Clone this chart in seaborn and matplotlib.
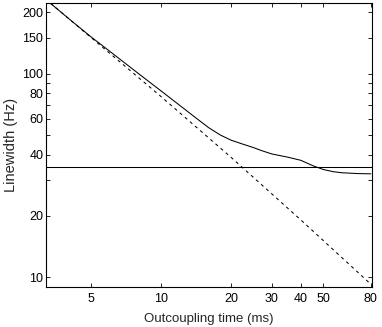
import numpy as np
import pandas as pd
import seaborn as sns
import matplotlib
matplotlib.use("Agg")
from matplotlib import pyplot as plt
from matplotlib.ticker import FixedLocator, NullFormatter, FixedFormatter

# values (log-log)
solid_t = [3.2, 4, 5, 6, 7, 8, 10, 12, 14, 16, 18, 20, 22, 25, 27, 30, 35, 40, 45, 50, 55, 60, 70, 80]
solid_hz = [230, 186, 151, 128.7, 112.3, 99.8, 82.1, 69.9, 61.0, 54.3, 49.9, 47.1, 45.4, 43.3,
            41.9, 40.3, 38.9, 37.5, 35.3, 33.8, 33.0, 32.6, 32.3, 32.2]
dashed_t = [3.0, 10, 20, 40, 80]
dashed_hz = [245, 77, 38.8, 19.1, 9.25]
level_hz = 34.8

x_ticks = [5, 10, 20, 30, 40, 50, 80]
y_ticks = [10, 20, 30, 40, 50, 60, 70, 80, 90, 100, 150, 200]
y_labels = ["10", "20", "", "40", "", "60", "", "80", "", "100", "150", "200"]

sns.set_style("ticks")
plt.rcParams["font.family"] = ["Liberation Sans", "DejaVu Sans"]

fig = plt.figure(figsize=(3.82, 3.27), dpi=100)
ax = fig.add_axes([0.1204, 0.1223, 0.853, 0.8685])

df_solid = pd.DataFrame({"t": solid_t, "hz": solid_hz})
df_dashed = pd.DataFrame({"t": dashed_t, "hz": dashed_hz})
sns.lineplot(data=df_solid, x="t", y="hz", ax=ax, color="black", lw=0.75, sort=False)
sns.lineplot(data=df_dashed, x="t", y="hz", ax=ax, color="black", lw=0.75, sort=False,
             linestyle=(0, (3, 3.5)))
ax.axhline(level_hz, color="black", lw=0.75)

ax.set_xscale("log")
ax.set_yscale("log")
ax.set_xlim(3.19, 80.8)
ax.set_ylim(8.96, 222)

ax.xaxis.set_major_locator(FixedLocator(x_ticks))
ax.xaxis.set_major_formatter(FixedFormatter([str(v) for v in x_ticks]))
ax.xaxis.set_minor_formatter(NullFormatter())
ax.xaxis.set_minor_locator(FixedLocator([]))
ax.yaxis.set_major_locator(FixedLocator(y_ticks))
ax.yaxis.set_major_formatter(FixedFormatter(y_labels))
ax.yaxis.set_minor_locator(FixedLocator([]))
ax.yaxis.set_minor_formatter(NullFormatter())

ax.tick_params(which="both", direction="in", length=3, width=0.6, top=True, right=True,
               labelsize=9, colors="black")
ax.tick_params(axis="x", pad=4)
ax.tick_params(axis="y", pad=2)
for s in ax.spines.values():
    s.set_visible(True)
    s.set_linewidth(0.8)
    s.set_color("black")

ax.set_xlabel("Outcoupling time (ms)", fontsize=9.5, labelpad=6)
ax.set_ylabel("Linewidth (Hz)", fontsize=10.5, labelpad=3)

fig.savefig("out.png", dpi=100)
